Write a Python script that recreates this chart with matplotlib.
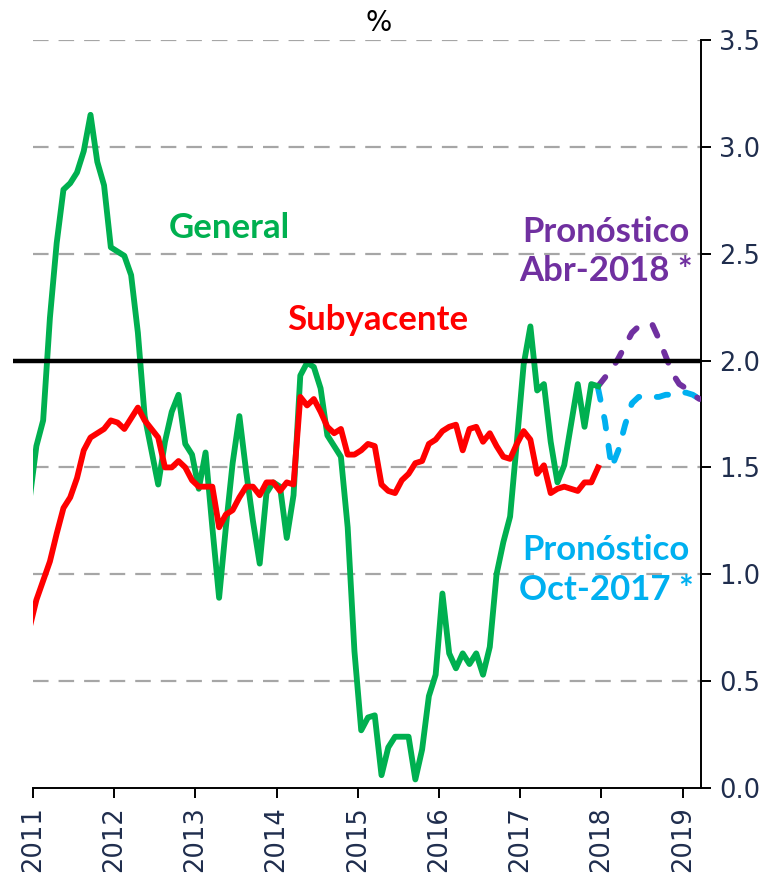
import numpy as np
import matplotlib
matplotlib.use("Agg")
import matplotlib.pyplot as plt

# monthly data, first value = Dec 2010 (clipped at the left edge)
start_year = 2010
start_month = 12

general = [1.35,
           1.60, 1.72, 2.20, 2.55, 2.80, 2.83, 2.88, 2.98, 3.15, 2.93, 2.82, 2.53,
           2.51, 2.49, 2.40, 2.13, 1.74, 1.58, 1.42, 1.62, 1.76, 1.84, 1.61, 1.56,
           1.40, 1.57, 1.22, 0.89, 1.22, 1.52, 1.74, 1.48, 1.25, 1.05, 1.38, 1.43,
           1.41, 1.17, 1.37, 1.93, 1.99, 1.97, 1.87, 1.65, 1.60, 1.55, 1.22, 0.64,
           0.27, 0.33, 0.34, 0.06, 0.19, 0.24, 0.24, 0.24, 0.04, 0.18, 0.43, 0.53,
           0.91, 0.63, 0.56, 0.63, 0.58, 0.63, 0.53, 0.66, 1.00, 1.15, 1.27, 1.62,
           1.98, 2.16, 1.86, 1.89, 1.62, 1.43, 1.51, 1.70, 1.89, 1.69, 1.89, 1.88]

subyacente = [0.75,
              0.88, 0.97, 1.06, 1.19, 1.31, 1.36, 1.45, 1.58, 1.64, 1.66, 1.68, 1.72,
              1.71, 1.68, 1.73, 1.78, 1.72, 1.68, 1.64, 1.50, 1.50, 1.53, 1.50, 1.44,
              1.41, 1.41, 1.41, 1.22, 1.28, 1.30, 1.36, 1.41, 1.41, 1.37, 1.43, 1.43,
              1.39, 1.43, 1.42, 1.83, 1.79, 1.82, 1.76, 1.69, 1.66, 1.68, 1.56, 1.56,
              1.58, 1.61, 1.60, 1.42, 1.39, 1.38, 1.44, 1.47, 1.52, 1.53, 1.61, 1.63,
              1.67, 1.69, 1.70, 1.58, 1.68, 1.69, 1.62, 1.66, 1.60, 1.55, 1.54, 1.61,
              1.67, 1.63, 1.47, 1.51, 1.38, 1.40, 1.41, 1.40, 1.39, 1.43, 1.43, 1.50]

# forecasts, monthly from Dec 2017 to Mar 2019
pron_abr18 = [1.88, 1.92, 1.96, 2.01, 2.07, 2.13, 2.16, 2.17, 2.17, 2.10, 2.02, 1.94,
              1.89, 1.87, 1.84, 1.82]
pron_oct17 = [1.87, 1.72, 1.50, 1.58, 1.70, 1.80, 1.83, 1.83, 1.83, 1.83, 1.84, 1.84,
              1.85, 1.85, 1.84, 1.82]

meta = 2.0
years = list(range(2011, 2020))


def month_axis(n, year, month):
    # mid-month position in decimal years
    idx = np.arange(n) + (month - 1)
    return year + (idx + 0.5) / 12.0


x_hist = month_axis(len(general), start_year, start_month)
x_fc = month_axis(len(pron_abr18), 2017, 12)

GREEN = "#00B050"
RED = "#FF0000"
PURPLE = "#7030A0"
BLUE = "#00B0F0"
NAVY = "#1F2D4D"

fig = plt.figure(figsize=(7.74, 8.75), dpi=100)
ax = fig.add_axes([33 / 774, 87 / 875, 668 / 774, 748 / 875])

ax.set_xlim(2011.0, 2019.226)
ax.set_ylim(0, 3.5)

# grid
for yv in np.arange(0.5, 3.51, 0.5):
    ax.axhline(yv, color="#A6A6A6", lw=1.6, dashes=(7, 4.5), zorder=1)

ax.plot(x_fc, pron_oct17, color=BLUE, lw=4.2, dashes=(2.0, 3.0),
        dash_capstyle="round", zorder=3)
ax.plot(x_fc, pron_abr18, color=PURPLE, lw=4.2, dashes=(2.0, 3.0),
        dash_capstyle="round", zorder=3)
ax.plot(x_hist, general, color=GREEN, lw=4.2, zorder=4)
ax.plot(x_hist, subyacente, color=RED, lw=4.2, zorder=5)
# target line sticks out a bit to the left of the plot area
ax.plot([2010.75, 2019.226], [meta, meta], color="black", lw=3.2,
        zorder=6, clip_on=False, solid_capstyle="butt")

# spines / ticks
ax.spines["left"].set_visible(False)
ax.spines["top"].set_visible(False)
ax.spines["right"].set_linewidth(1.4)
ax.spines["bottom"].set_linewidth(1.4)
ax.yaxis.tick_right()
ax.set_yticks(np.arange(0, 3.51, 0.5))
ax.set_yticklabels([f"{v:.1f}" for v in np.arange(0, 3.51, 0.5)])
ax.set_xticks(years)
ax.set_xticklabels([str(y) for y in years], rotation=90)
ax.tick_params(axis="both", direction="out", length=7, width=1.4,
               labelsize=18.5, labelcolor=NAVY, pad=6)
for lbl in ax.get_xticklabels() + ax.get_yticklabels():
    lbl.set_family("DejaVu Sans")

# texts
tfont = dict(family=["Lato", "DejaVu Sans"], fontweight="bold", fontsize=25)
ax.text(2013.42, 2.62, "General", color=GREEN, ha="center", va="center", **tfont)
ax.text(2015.25, 2.19, "Subyacente", color=RED, ha="center", va="center", **tfont)
ax.text(2018.06, 2.51, "Pronóstico\nAbr-2018 *", color=PURPLE, ha="center",
        va="center", linespacing=1.3, **tfont)
ax.text(2018.06, 1.02, "Pronóstico\nOct-2017 *", color=BLUE, ha="center",
        va="center", linespacing=1.3, **tfont)
ax.text(2015.25, 3.58, "%", color="#000000", ha="center", va="center",
        fontsize=20, family="DejaVu Sans", clip_on=False)

fig.savefig("out.png", dpi=100)
